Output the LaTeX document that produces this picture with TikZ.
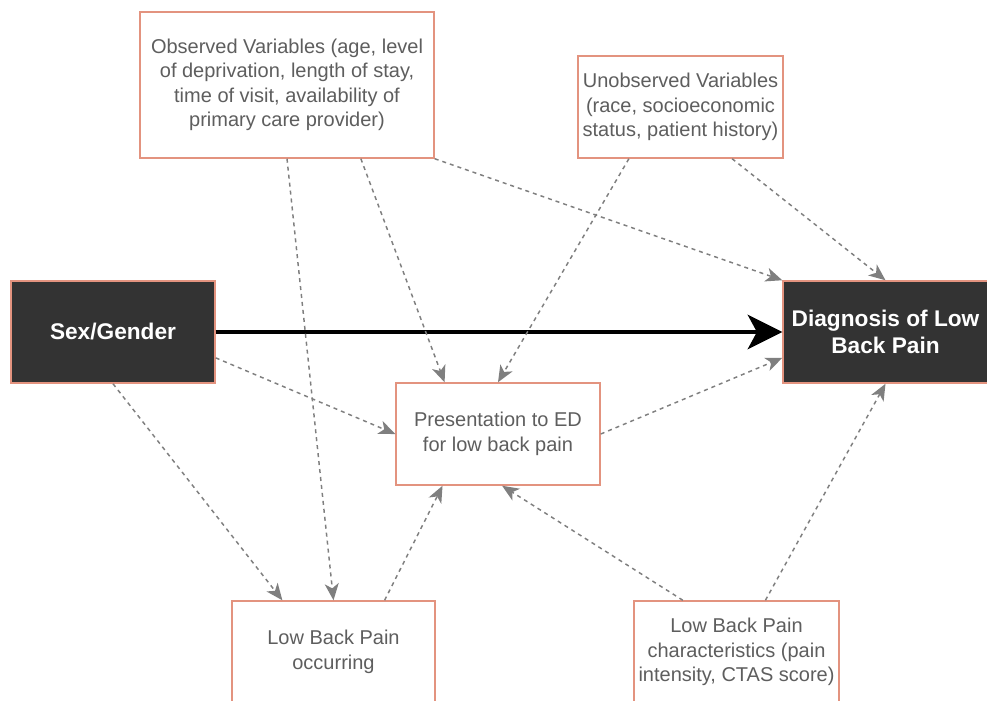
\documentclass[tikz,border=0pt]{standalone}
\usepackage{fontspec}
\setmainfont{Liberation Sans}
\usetikzlibrary{arrows.meta,calc}

\definecolor{boxedge}{HTML}{E3937F}
\definecolor{darkfill}{HTML}{333333}
\definecolor{labeltext}{HTML}{5E5E5E}
\definecolor{linkgray}{HTML}{7F7F7F}

\tikzset{
  plainbox/.style={draw=boxedge, line width=1.1pt, fill=white, inner sep=0pt,
    align=center, text=labeltext,
    font=\fontsize{15}{18.4}\selectfont},
  darkbox/.style={draw=boxedge, line width=1.1pt, fill=darkfill, inner sep=0pt,
    align=center, text=white,
    font=\fontsize{17}{20}\selectfont\bfseries},
  link/.style={draw=linkgray, line width=1.1pt, dash pattern=on 3pt off 3pt,
    -{Stealth[length=12.5pt,width=10.5pt,inset=3.5pt]}},
  mainlink/.style={draw=black, line width=2.3pt,
    -{Stealth[length=26pt,width=26pt,inset=7pt]}}
}

\begin{document}
\begin{tikzpicture}[x=0.75pt, y=-0.75pt]
\useasboundingbox (0,0) rectangle (987,700);

% boxes
\node[plainbox, minimum width=220.5pt, minimum height=109.5pt] (obs) at (287,85)
  {Observed Variables (age, level\\of deprivation, length of stay,\\time of visit, availability of\\primary care provider)};
\node[plainbox, minimum width=153.75pt, minimum height=76.5pt] (unobs) at (680.5,107)
  {Unobserved Variables\\(race, socioeconomic\\status, patient history)};
\node[darkbox, minimum width=153pt, minimum height=76.5pt] (sex) at (113,332)
  {Sex/Gender};
\node[darkbox, minimum width=153.75pt, minimum height=76.5pt] (diag) at (885.5,332)
  {Diagnosis of Low\\Back Pain};
\node[plainbox, minimum width=153pt, minimum height=76.5pt] (pres) at (498,434)
  {Presentation to ED\\for low back pain};
\node[plainbox, minimum width=152.25pt, minimum height=76.5pt] (lbp) at (333.5,652)
  {Low Back Pain\\occurring};
\node[plainbox, minimum width=153.75pt, minimum height=76.5pt] (chars) at (736.5,652)
  {Low Back Pain\\characteristics (pain\\intensity, CTAS score)};

% main effect
\draw[mainlink] (sex.east) -- (diag.west);

% dashed paths
\draw[link] (obs.south east) -- (diag.north west);
\draw[link] ($(obs.south west)!0.75!(obs.south east)$) -- ($(pres.north west)!0.24!(pres.north east)$);
\draw[link] (obs.south) -- (lbp.north);
\draw[link] ($(unobs.south west)!0.25!(unobs.south east)$) -- (pres.north);
\draw[link] ($(unobs.south west)!0.75!(unobs.south east)$) -- (diag.north);
\draw[link] ($(sex.north east)!0.75!(sex.south east)$) -- (pres.west);
\draw[link] (sex.south) -- ($(lbp.north west)!0.25!(lbp.north east)$);
\draw[link] (pres.east) -- ($(diag.north west)!0.75!(diag.south west)$);
\draw[link] ($(lbp.north west)!0.75!(lbp.north east)$) -- ($(pres.south west)!0.23!(pres.south east)$);
\draw[link] ($(chars.north west)!0.24!(chars.north east)$) -- ($(pres.south west)!0.52!(pres.south east)$);
\draw[link] ($(chars.north west)!0.64!(chars.north east)$) -- (diag.south);
\end{tikzpicture}
\end{document}
